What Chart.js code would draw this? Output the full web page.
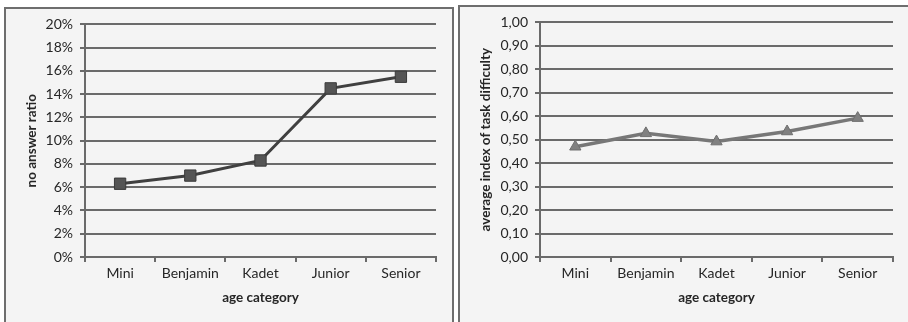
<!DOCTYPE html>
<html>
<head>
<meta charset="utf-8">
<script src="https://cdn.jsdelivr.net/npm/chart.js@4/dist/chart.umd.min.js"></script>
<style>
  html, body { margin: 0; padding: 0; background: #ffffff; }
  body { width: 908px; height: 322px; position: relative; overflow: hidden; }
  .panel {
    position: absolute;
    background: #f4f4f4;
    border: 2px solid #6e6e6e;
    border-bottom: none;
    box-sizing: border-box;
  }
  #panelA { left: 4px; top: 7px; width: 450px; height: 320px; }
  #panelB { left: 458px; top: 5px; width: 460px; height: 322px; border-right: none; }
  .panel canvas { position: absolute; left: 0; top: 0; }
</style>
</head>
<body>
<div class="panel" id="panelA"><canvas id="chartA" width="446" height="313"></canvas></div>
<div class="panel" id="panelB"><canvas id="chartB" width="448" height="315"></canvas></div>
<script>
// Age categories shared by both charts
const categories = ['Mini', 'Benjamin', 'Kadet', 'Junior', 'Senior'];

// Share of tasks left unanswered, in percent
const noAnswerRatio = [6.3, 7.0, 8.3, 14.5, 15.5];

// Average task difficulty index per age category
const taskDifficulty = [0.47, 0.527, 0.492, 0.535, 0.592];

// Axis tick settings
const ratioTicks = { min: 0, max: 20, step: 2 };
const difficultyTicks = { min: 0, max: 1, step: 0.1 };

const FONT = 'Lato, "Open Sans", sans-serif';
const TEXT = '#262626';
const GRID = '#6a6a6a';

function buildOptions(cfg) {
  return {
    responsive: false,
    animation: false,
    devicePixelRatio: 1,
    layout: { padding: { left: 0, right: cfg.padRight, top: cfg.padTop, bottom: 0 } },
    plugins: { legend: { display: false }, tooltip: { enabled: false } },
    scales: {
      x: {
        type: 'category',
        offset: true,
        grid: {
          offset: true,
          drawOnChartArea: false,
          drawTicks: true,
          tickLength: 5,
          color: GRID,
          lineWidth: 2
        },
        border: { display: true, color: GRID, width: 2 },
        ticks: { color: TEXT, font: { family: FONT, size: 14 }, padding: 3, maxRotation: 0 },
        title: {
          display: true,
          text: 'age category',
          color: TEXT,
          font: { family: FONT, size: 13.5, weight: 'bold' },
          padding: { top: 0, bottom: 16 }
        },
        afterFit: (s) => { s.height = cfg.xHeight; }
      },
      y: {
        min: cfg.ticks.min,
        max: cfg.ticks.max,
        grid: {
          color: GRID,
          lineWidth: 2,
          drawTicks: true,
          tickLength: 5
        },
        border: { display: true, color: GRID, width: 2 },
        ticks: {
          stepSize: cfg.ticks.step,
          color: TEXT,
          font: { family: FONT, size: 14 },
          padding: 7,
          callback: cfg.format
        },
        title: {
          display: true,
          text: cfg.yTitle,
          color: TEXT,
          font: { family: FONT, size: 13.5, weight: 'bold' },
          padding: { top: 18, bottom: 0 }
        },
        afterFit: (s) => { s.width = cfg.yWidth; }
      }
    }
  };
}

// Left chart: no answer ratio
new Chart(document.getElementById('chartA'), {
  type: 'line',
  data: {
    labels: categories,
    datasets: [{
      data: noAnswerRatio,
      borderColor: '#404040',
      borderWidth: 3,
      pointStyle: 'rect',
      pointRadius: 8,
      pointBackgroundColor: '#555555',
      pointBorderColor: '#3a3a3a',
      pointBorderWidth: 1,
      tension: 0
    }]
  },
  options: buildOptions({
    padRight: 16, padTop: 15, xHeight: 65, yWidth: 79,
    ticks: ratioTicks,
    yTitle: 'no answer ratio',
    format: (v) => Math.round(v) + '%'
  })
});

// Right chart: average task difficulty
new Chart(document.getElementById('chartB'), {
  type: 'line',
  data: {
    labels: categories,
    datasets: [{
      data: taskDifficulty,
      borderColor: '#777777',
      borderWidth: 3.5,
      pointStyle: 'triangle',
      pointRadius: 6.5,
      pointBackgroundColor: '#808080',
      pointBorderColor: '#6e6e6e',
      pointBorderWidth: 1,
      tension: 0
    }]
  },
  options: buildOptions({
    padRight: 15, padTop: 15, xHeight: 65, yWidth: 80,
    ticks: difficultyTicks,
    yTitle: 'average index of task difficulty',
    format: (v) => v.toFixed(2).replace('.', ',')
  })
});
</script>
</body>
</html>
